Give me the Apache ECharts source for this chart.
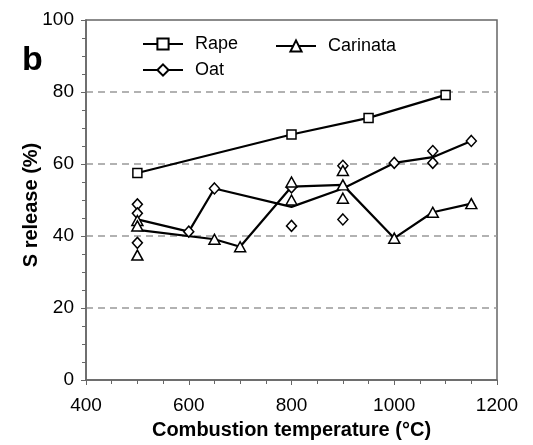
<!DOCTYPE html>
<html>
<head>
<meta charset="utf-8">
<script src="https://cdn.jsdelivr.net/npm/echarts@6/dist/echarts.min.js"></script>
<style>
html, body { margin: 0; padding: 0; background: #fff; }
#chart { width: 533px; height: 445px; }
</style>
</head>
<body>
<div id="chart"></div>
<script>
// axis ticks
var xTicks = [400, 600, 800, 1000, 1200];
var yTicks = [0, 20, 40, 60, 80, 100];

// mean lines (temperature, S release %)
var rapeLine = [[500, 57.5], [800, 68.2], [950, 72.8], [1100, 79.2]];
var oatLine = [[500, 44.6], [600, 41.2], [650, 53.2], [800, 48.1], [900, 53.2], [1000, 60.3], [1075, 61.9], [1150, 66.4]];
var carinataLine = [[500, 41.7], [650, 39.1], [700, 37.0], [800, 53.7], [900, 54.2], [1000, 39.4], [1075, 46.6], [1150, 49.0]];

// single measurements, open markers
var rapePoints = [[500, 57.5], [800, 68.2], [950, 72.8], [1100, 79.2]];
var oatPoints = [[500, 48.8], [500, 46.3], [500, 38.1], [600, 41.2], [650, 53.2], [800, 42.8], [800, 53.5], [900, 44.6], [900, 59.5], [1000, 60.3], [1075, 63.6], [1075, 60.3], [1150, 66.4]];
var carinataPoints = [[500, 44.3], [500, 42.8], [500, 34.7], [650, 39.1], [700, 37.0], [800, 55.0], [800, 50.0], [900, 58.2], [900, 54.2], [900, 50.5], [1000, 39.4], [1075, 46.6], [1150, 49.0]];

var FONT = '"Liberation Sans", Arial, sans-serif';

function lineSeries(name, data, symbol, size) {
  return {
    name: name,
    type: 'line',
    data: data,
    symbol: symbol,
    symbolSize: size,
    showSymbol: false,
    lineStyle: { color: '#000', width: 2.2 },
    itemStyle: { color: '#fff', borderColor: '#000', borderWidth: 1.5 },
    z: 2
  };
}

function pointSeries(name, data, symbol, size) {
  return {
    name: name,
    type: 'scatter',
    data: data,
    symbol: symbol,
    symbolSize: size,
    itemStyle: { color: '#fff', borderColor: '#000', borderWidth: 1.5, opacity: 1 },
    z: 3
  };
}

function legendAt(name, left, top) {
  return {
    data: [name],
    left: left,
    top: top,
    padding: 0,
    itemWidth: 40,
    itemHeight: 14,
    selectedMode: false,
    textStyle: { fontSize: 18, color: '#000', fontFamily: FONT, padding: [0, 0, 0, 7] }
  };
}

var chart = echarts.init(document.getElementById('chart'));
chart.setOption({
  animation: false,
  backgroundColor: '#fff',
  grid: {
    left: 86, right: 36, top: 20, bottom: 65,
    show: true, borderColor: '#666', borderWidth: 1.5
  },
  legend: [
    legendAt('Rape', 142, 35),
    legendAt('Oat', 142, 61),
    legendAt('Carinata', 275, 37)
  ],
  graphic: [{
    type: 'text',
    left: 22, top: 44,
    style: { text: 'b', font: 'bold 34px ' + FONT, fill: '#000' }
  }],
  xAxis: {
    type: 'value',
    min: xTicks[0], max: xTicks[xTicks.length - 1],
    interval: xTicks[1] - xTicks[0],
    name: 'Combustion temperature (°C)',
    nameLocation: 'middle',
    nameGap: 40,
    nameMoveOverlap: false,
    nameTextStyle: { fontSize: 20, fontWeight: 'bold', color: '#000', fontFamily: FONT },
    axisLine: { lineStyle: { color: '#666', width: 1.5 } },
    axisTick: { inside: false, length: 5, lineStyle: { color: '#666' } },
    minorTick: { show: true, splitNumber: 4, length: 4, lineStyle: { color: '#666' } },
    axisLabel: {
      fontSize: 19, color: '#000', margin: 16, fontFamily: FONT,
      formatter: function (v) { return String(v); }
    },
    splitLine: { show: false }
  },
  yAxis: {
    type: 'value',
    min: yTicks[0], max: yTicks[yTicks.length - 1],
    interval: yTicks[1] - yTicks[0],
    name: 'S release (%)',
    nameLocation: 'middle',
    nameGap: 45,
    nameMoveOverlap: false,
    nameTextStyle: { fontSize: 20, fontWeight: 'bold', color: '#000', fontFamily: FONT, padding: [0, 10, 0, 0] },
    axisLine: { show: true, lineStyle: { color: '#666', width: 1.5 } },
    axisTick: { show: true, inside: false, length: 5, lineStyle: { color: '#666' } },
    minorTick: { show: true, splitNumber: 4, length: 4, lineStyle: { color: '#666' } },
    axisLabel: { fontSize: 19, color: '#000', margin: 12, fontFamily: FONT },
    splitLine: {
      show: true, showMinLine: false, showMaxLine: false,
      lineStyle: { color: '#999', width: 1.5, type: [7, 5] }
    }
  },
  series: [
    lineSeries('Rape', rapeLine, 'rect', 9),
    lineSeries('Oat', oatLine, 'diamond', [10, 11]),
    lineSeries('Carinata', carinataLine, 'triangle', [11, 10]),
    pointSeries('Rape points', rapePoints, 'rect', 9),
    pointSeries('Oat points', oatPoints, 'diamond', [10, 11]),
    pointSeries('Carinata points', carinataPoints, 'triangle', [11, 10])
  ]
});
</script>
</body>
</html>
